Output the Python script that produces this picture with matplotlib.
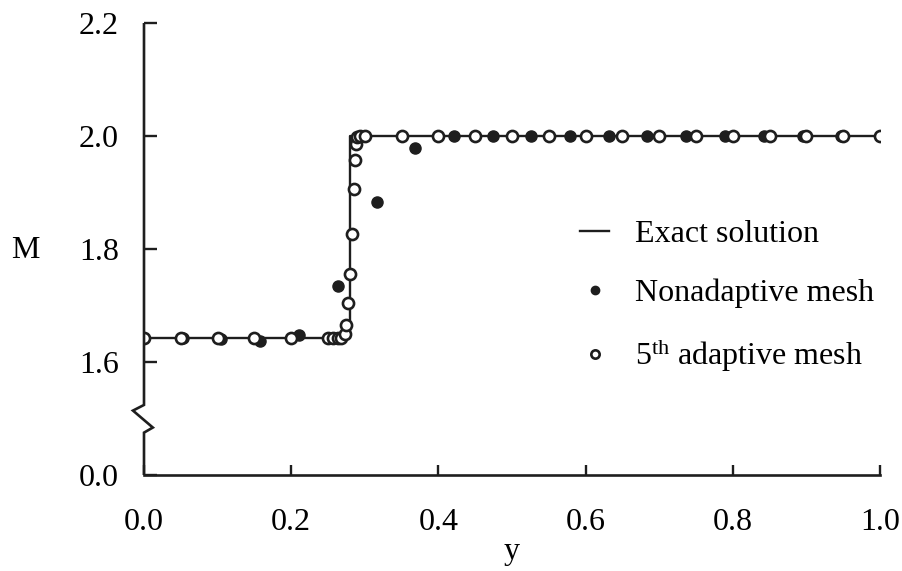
import numpy as np
import matplotlib
matplotlib.use('Agg')
import matplotlib.pyplot as plt

plt.rcParams['font.family'] = ['Liberation Serif', 'DejaVu Serif']
plt.rcParams['mathtext.fontset'] = 'custom'
plt.rcParams['mathtext.rm'] = 'Liberation Serif'
plt.rcParams['mathtext.it'] = 'Liberation Serif:italic'

# exact solution (shock at y ~ 0.28)
exact_y = [0.0, 0.28, 0.28, 1.0]
exact_m = [1.642, 1.642, 2.0, 2.0]

# nonadaptive mesh, uniform spacing 1/19
nonadapt_y = [0.0, 0.0526, 0.105, 0.158, 0.2105, 0.263, 0.316, 0.368, 0.421, 0.474,
              0.526, 0.579, 0.632, 0.684, 0.737, 0.789, 0.842, 0.895, 0.947, 1.0]
nonadapt_m = [1.642, 1.642, 1.641, 1.638, 1.648, 1.734, 1.884, 1.979, 2.0, 2.0,
              2.0, 2.0, 2.0, 2.0, 2.0, 2.0, 2.0, 2.0, 2.0, 2.0]

# 5th adaptive mesh, clustered around the shock
adapt_y = [0.0, 0.05, 0.1, 0.15, 0.2, 0.25, 0.257, 0.263, 0.268, 0.273, 0.275, 0.277,
           0.280, 0.283, 0.285, 0.287, 0.288, 0.290, 0.294, 0.30, 0.35, 0.40, 0.45,
           0.50, 0.55, 0.60, 0.65, 0.70, 0.75, 0.80, 0.85, 0.90, 0.95, 1.0]
adapt_m = [1.642, 1.642, 1.642, 1.642, 1.642, 1.642, 1.642, 1.642, 1.643, 1.649, 1.665, 1.704,
           1.755, 1.827, 1.907, 1.958, 1.986, 1.998, 2.0, 2.0, 2.0, 2.0, 2.0,
           2.0, 2.0, 2.0, 2.0, 2.0, 2.0, 2.0, 2.0, 2.0, 2.0, 2.0]

# broken axis: bottom tick stands for 0.0
yticks = [1.4, 1.6, 1.8, 2.0, 2.2]
ytick_labels = ['0.0', '1.6', '1.8', '2.0', '2.2']
xticks = [0.0, 0.2, 0.4, 0.6, 0.8, 1.0]
xtick_labels = ['0.0', '0.2', '0.4', '0.6', '0.8', '1.0']

fs = 23
ink = '#1e1e1e'

fig = plt.figure(figsize=(9.03, 5.71), dpi=100)
ax = fig.add_axes([144 / 903, 1 - 475 / 571, 736 / 903, 452 / 571])

ax.plot(exact_y, exact_m, color=ink, lw=1.7, label='Exact solution', zorder=2)
ax.plot(nonadapt_y, nonadapt_m, 'o', color=ink, ms=8, mec=ink,
        label='Nonadaptive mesh', zorder=3)
ax.plot(adapt_y, adapt_m, 'o', mfc='white', mec=ink, mew=1.9, ms=8,
        label=r'5$^{\mathrm{th}}$ adaptive mesh', zorder=4)

ax.set_xlim(0, 1.0)
ax.set_ylim(1.4, 2.2)
ax.set_xticks(xticks)
ax.set_xticklabels(xtick_labels)
ax.set_yticks(yticks)
ax.set_yticklabels(ytick_labels)
ax.tick_params(axis='both', direction='in', labelsize=fs, width=1.7, color=ink)
ax.tick_params(axis='x', length=7, pad=24)
ax.tick_params(axis='y', length=9, pad=18)

for s in ['top', 'right', 'left']:
    ax.spines[s].set_visible(False)
ax.spines['bottom'].set_linewidth(1.9)
ax.spines['bottom'].set_color(ink)

# left spine with the zigzag break
zz_x = [0.0, 0.0, -0.015, 0.012, 0.0, 0.0]
zz_y = [2.2, 1.524, 1.514, 1.484, 1.475, 1.4]
ax.plot(zz_x, zz_y, color=ink, lw=1.9, clip_on=False, zorder=5,
        solid_capstyle='butt', solid_joinstyle='miter')

ax.set_xlabel('y', fontsize=fs, labelpad=0)
fig.text(25 / 903, 1 - 250 / 571, 'M', fontsize=fs, ha='center', va='center')

leg = ax.legend(loc='upper left', bbox_to_anchor=(0.571, 0.6), frameon=False,
                fontsize=fs, handlelength=0.9, handletextpad=0.8, labelspacing=0.92,
                borderpad=0, markerscale=0.75)

fig.savefig('out.png', dpi=100)
